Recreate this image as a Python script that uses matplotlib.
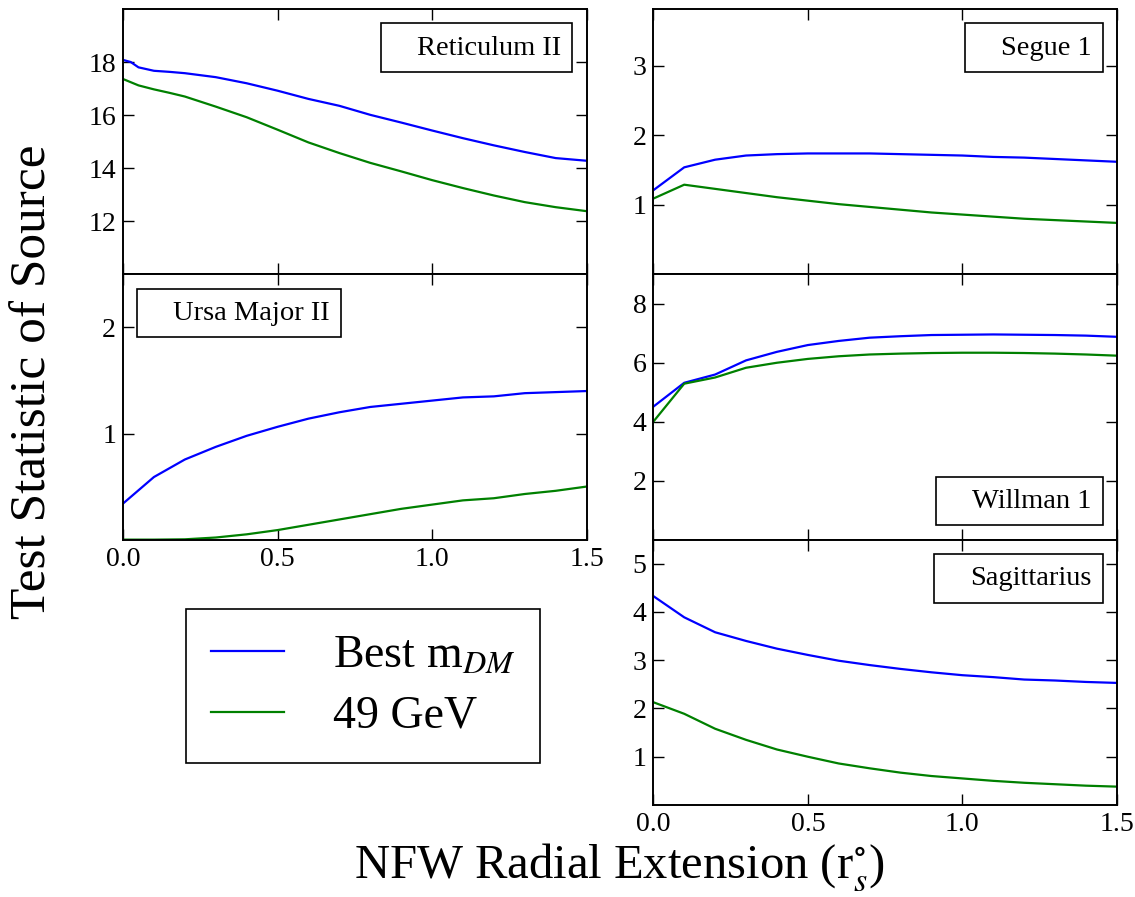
import matplotlib
matplotlib.use("Agg")
import matplotlib.pyplot as plt
from matplotlib.lines import Line2D

plt.rcParams["font.family"] = ["Liberation Serif", "DejaVu Serif"]
plt.rcParams["mathtext.fontset"] = "stix"
plt.rcParams["axes.linewidth"] = 1.4

# radial extension grid
x = [0.0, 0.1, 0.2, 0.3, 0.4, 0.5, 0.6, 0.7, 0.8, 0.9, 1.0, 1.1, 1.2, 1.3, 1.4, 1.5]
ret_x = [0.0, 0.025, 0.05, 0.1, 0.15, 0.2, 0.3, 0.4, 0.5, 0.6, 0.7, 0.8, 0.9, 1.0, 1.1, 1.2, 1.3, 1.4, 1.5]

# Reticulum II
ret_best = [18.08, 18.0, 17.8, 17.67, 17.63, 17.58, 17.43, 17.2, 16.92, 16.61, 16.35, 16.01,
            15.72, 15.42, 15.13, 14.86, 14.61, 14.38, 14.28]
ret_49 = [17.36, 17.24, 17.12, 16.97, 16.84, 16.70, 16.32, 15.92, 15.45, 14.97, 14.57, 14.2,
          13.88, 13.55, 13.25, 12.97, 12.72, 12.53, 12.38]

# Segue 1
seg_best = [1.21, 1.54, 1.65, 1.71, 1.73, 1.74, 1.74, 1.74, 1.73, 1.72, 1.71, 1.69, 1.68, 1.66, 1.64, 1.62]
seg_49 = [1.09, 1.29, 1.23, 1.17, 1.11, 1.06, 1.01, 0.97, 0.93, 0.89, 0.86, 0.83, 0.80, 0.78, 0.76, 0.74]

# Ursa Major II
uma_best = [0.34, 0.59, 0.755, 0.874, 0.978, 1.063, 1.14, 1.20, 1.25, 1.28, 1.31, 1.34, 1.35, 1.38, 1.39, 1.40]
uma_49 = [0.0, 0.0, 0.003, 0.02, 0.05, 0.09, 0.14, 0.19, 0.24, 0.29, 0.33, 0.37, 0.39, 0.43, 0.46, 0.50]

# Willman 1
wil_best = [4.51, 5.32, 5.6, 6.08, 6.37, 6.6, 6.74, 6.85, 6.9, 6.94, 6.95, 6.96, 6.95, 6.94, 6.92, 6.88]
wil_49 = [4.0, 5.29, 5.5, 5.83, 6.0, 6.13, 6.22, 6.28, 6.31, 6.33, 6.34, 6.34, 6.33, 6.31, 6.28, 6.24]

# Sagittarius
sgr_best = [4.33, 3.89, 3.58, 3.40, 3.24, 3.11, 2.99, 2.90, 2.82, 2.75, 2.69, 2.65, 2.60, 2.58, 2.55, 2.53]
sgr_49 = [2.13, 1.89, 1.58, 1.35, 1.15, 1.0, 0.86, 0.76, 0.67, 0.6, 0.55, 0.5, 0.46, 0.43, 0.40, 0.38]

xticks = [0.0, 0.5, 1.0, 1.5]
xtick_labels = ["0.0", "0.5", "1.0", "1.5"]

fig, axes = plt.subplots(3, 2, figsize=(11.35, 8.97), dpi=100,
                         gridspec_kw=dict(left=0.1084, right=0.984, top=0.990, bottom=0.1026,
                                          wspace=0.144, hspace=0.0))

panels = [
    (axes[0, 0], ret_x, ret_best, ret_49, (10, 20), [12, 14, 16, 18], "Reticulum II", "upper right", False),
    (axes[0, 1], x, seg_best, seg_49, (0, 3.82), [1, 2, 3], "Segue 1", "upper right", False),
    (axes[1, 0], x, uma_best, uma_49, (0, 2.5), [1, 2], "Ursa Major II", "upper left", True),
    (axes[1, 1], x, wil_best, wil_49, (0, 9), [2, 4, 6, 8], "Willman 1", "lower right", False),
    (axes[2, 1], x, sgr_best, sgr_49, (0, 5.5), [1, 2, 3, 4, 5], "Sagittarius", "upper right", True),
]

for ax, xs, best, gev, ylim, yt, name, loc, show_x in panels:
    ax.plot(xs, best, color="#0000ff", lw=1.6)
    ax.plot(xs, gev, color="#008000", lw=1.6)
    ax.set_xlim(0, 1.5)
    ax.set_ylim(*ylim)
    ax.set_yticks(yt)
    ax.set_xticks(xticks)
    if show_x:
        ax.set_xticklabels(xtick_labels)
    else:
        ax.set_xticklabels([])
    ax.tick_params(direction="in", top=True, right=True, length=8, width=1.0,
                   labelsize=20, pad=5)
    leg = ax.legend([Line2D([], [], color="none")], [name], loc=loc, fontsize=20.5,
                    fancybox=False, framealpha=1, edgecolor="black",
                    handlelength=0.5, handletextpad=0.35, borderpad=0.4,
                    borderaxespad=0.5)
    leg.get_frame().set_linewidth(1.2)

axes[2, 0].axis("off")

h1 = Line2D([], [], color="#0000ff", lw=1.6)
h2 = Line2D([], [], color="#008000", lw=1.6)
big = fig.legend([h1, h2], ["Best m$_{DM}$", "49 GeV"], loc="center",
                 bbox_to_anchor=(0.32, 0.235), fontsize=33, fancybox=False,
                 framealpha=1, edgecolor="black", handlelength=1.6,
                 handletextpad=1.05, borderpad=0.55, labelspacing=0.4)
big.get_frame().set_linewidth(1.2)

fig.text(0.029, 0.574, "Test Statistic of Source", rotation=90, fontsize=37,
         ha="center", va="center")
fig.text(0.546, 0.033, "NFW Radial Extension (r$_s^{\\circ}$)", fontsize=35,
         ha="center", va="center")

fig.savefig("out.png", dpi=100)
